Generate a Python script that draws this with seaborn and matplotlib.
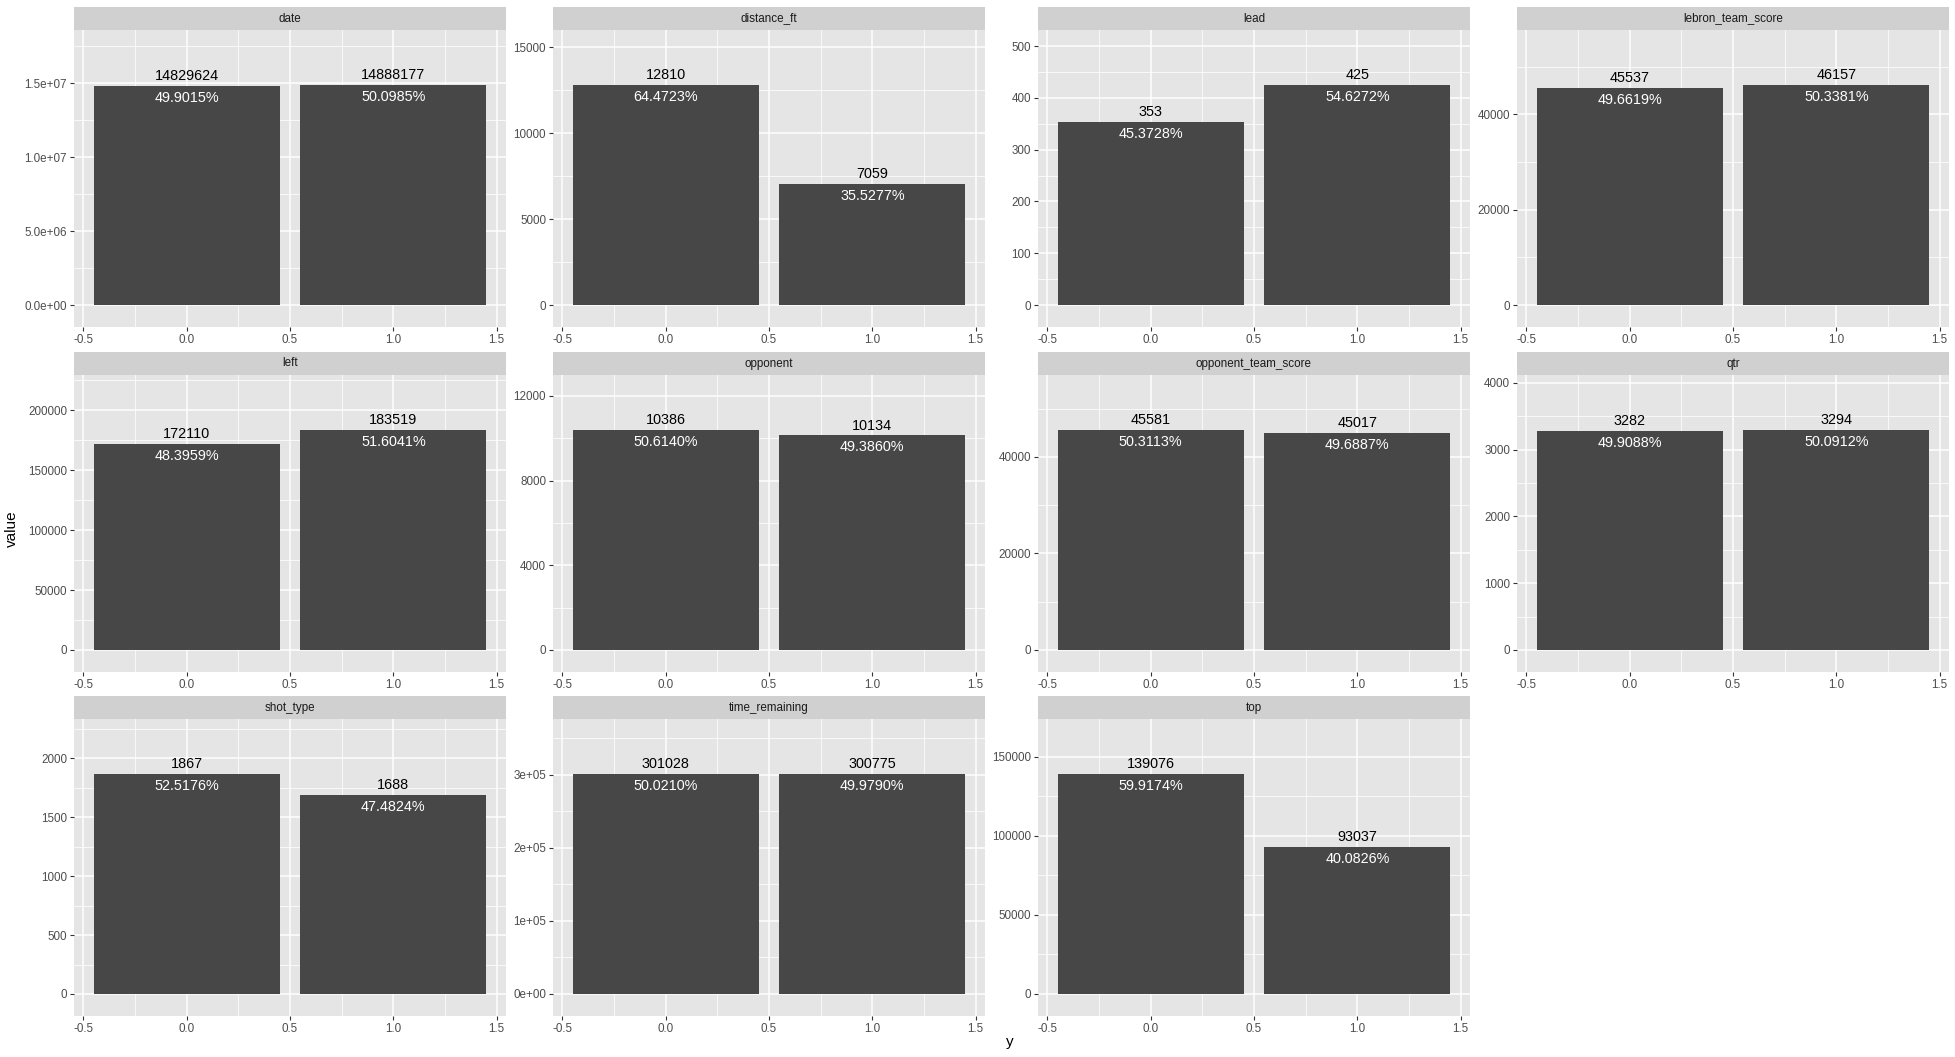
import pandas as pd
import matplotlib
matplotlib.use("Agg")
import matplotlib.pyplot as plt
from matplotlib.ticker import MultipleLocator, FuncFormatter
import seaborn as sns

features = ["date", "distance_ft", "lead", "lebron_team_score", "left", "opponent",
            "opponent_team_score", "qtr", "shot_type", "time_remaining", "top"]
y_levels = [0, 1]
value_y0 = [14829624, 12810, 353, 45537, 172110, 10386, 45581, 3282, 1867, 301028, 139076]
value_y1 = [14888177, 7059, 425, 46157, 183519, 10134, 45017, 3294, 1688, 300775, 93037]
tick_step = [5e6, 5000, 100, 20000, 50000, 4000, 20000, 1000, 500, 1e5, 50000]
tick_fmt = ["{:.1e}", "{:.0f}", "{:.0f}", "{:.0f}", "{:.0f}", "{:.0f}",
            "{:.0f}", "{:.0f}", "{:.0f}", "{:.0e}", "{:.0f}"]

rows = []
for f, a, b in zip(features, value_y0, value_y1):
    rows.append({"feature": f, "y": y_levels[0], "value": a})
    rows.append({"feature": f, "y": y_levels[1], "value": b})
df = pd.DataFrame(rows)

plt.rcParams['font.family'] = ['Liberation Sans', 'DejaVu Sans']

W, H = 1956, 1057
fig = plt.figure(figsize=(W / 100, H / 100), dpi=100)
fig.patch.set_facecolor("white")

col_left = [74, 553, 1038, 1517]
col_width = 432
strip_top = [7, 352, 696]
strip_h = 23
panel_h = 297

BAR = "#474747"

for i, feat in enumerate(features):
    r, c = divmod(i, 4)
    x0 = col_left[c]
    top = strip_top[r]
    ax = fig.add_axes([x0 / W, 1 - (top + strip_h + panel_h) / H, col_width / W, panel_h / H])
    sax = fig.add_axes([x0 / W, 1 - (top + strip_h) / H, col_width / W, strip_h / H])
    sax.set_facecolor("#D0D0D0")
    sax.set_xticks([])
    sax.set_yticks([])
    for s in sax.spines.values():
        s.set_visible(False)
    sax.text(0.5, 0.5, feat, ha="center", va="center", fontsize=8.4, color="#1A1A1A",
             transform=sax.transAxes)

    sub = df[df["feature"] == feat]
    sns.barplot(data=sub, x="y", y="value", native_scale=True, width=0.9, color=BAR,
                saturation=1, linewidth=0, errorbar=None, ax=ax, zorder=2)
    ax.set_facecolor("#E5E5E5")
    for s in ax.spines.values():
        s.set_visible(False)
    vmax = sub["value"].max()
    total = sub["value"].sum()
    ax.set_ylim(-0.1 * vmax, 1.25 * vmax)
    ax.set_xlim(-0.545, 1.545)
    ax.xaxis.set_major_locator(MultipleLocator(0.5))
    ax.xaxis.set_minor_locator(MultipleLocator(0.25))
    ax.xaxis.set_major_formatter(FuncFormatter(lambda v, p: "{:.1f}".format(v)))
    step = tick_step[i]
    fmt = tick_fmt[i]
    ax.yaxis.set_major_locator(MultipleLocator(step))
    ax.yaxis.set_minor_locator(MultipleLocator(step / 2))
    ax.yaxis.set_major_formatter(FuncFormatter(lambda v, p, fmt=fmt: fmt.format(v)))
    ax.grid(which="major", color="white", linewidth=1.1, zorder=0)
    ax.grid(which="minor", color="white", linewidth=0.55, zorder=0)
    ax.set_axisbelow(True)
    ax.tick_params(which="major", length=3, width=0.8, color="#333333",
                   labelsize=8.4, labelcolor="#4D4D4D", pad=2)
    ax.tick_params(which="minor", length=0)
    ax.set_xlabel("")
    ax.set_ylabel("")
    for _, row in sub.iterrows():
        ax.annotate(str(int(row["value"])), (row["y"], row["value"]), xytext=(0, 2),
                    textcoords="offset points", ha="center", va="bottom",
                    fontsize=10.4, color="black")
        ax.annotate("{:.4f}%".format(100 * row["value"] / total), (row["y"], row["value"]),
                    xytext=(0, -3.5), textcoords="offset points", ha="center", va="top",
                    fontsize=10.4, color="white")

fig.text(12 / W, 1 - 529 / H, "value", rotation=90, ha="center", va="center", fontsize=11)
fig.text(1010 / W, 1 - 1042 / H, "y", ha="center", va="center", fontsize=11)

fig.savefig("out.png", dpi=100)
